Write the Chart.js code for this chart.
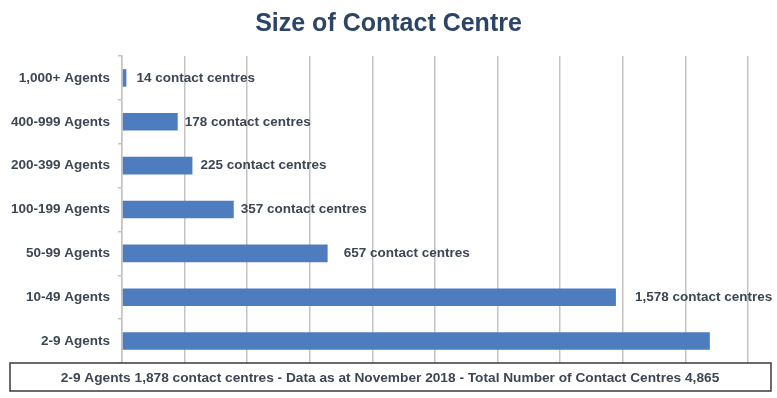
<!DOCTYPE html>
<html>
<head>
<meta charset="utf-8">
<title>Size of Contact Centre</title>
<script src="https://cdn.jsdelivr.net/npm/chart.js@4.4.1/dist/chart.umd.min.js"></script>
<style>
    html, body { margin: 0; padding: 0; background: #ffffff; }
    #wrap { position: relative; width: 777px; height: 398px; }
</style>
</head>
<body>
<div id="wrap"><canvas id="grafico"></canvas></div>
<script>
// datos
const categorias = ['1,000+ Agents', '400-999 Agents', '200-399 Agents', '100-199 Agents', '50-99 Agents', '10-49 Agents', '2-9 Agents'];
const centros = [14, 178, 225, 357, 657, 1578, 1878];
const xTicks = [0, 200, 400, 600, 800, 1000, 1200, 1400, 1600, 1800, 2000];
const titulo = 'Size of Contact Centre';
const pie = '2-9 Agents 1,878 contact centres - Data as at November 2018 - Total Number of Contact Centres 4,865';

// separacion de cada etiqueta respecto al final de la barra (null = sin etiqueta)
const separacion = [10, 7, 8, 7, 16, 19, null];

const colorTexto = '#3c4654';
const fuente = '"Liberation Sans", Arial, Helvetica, sans-serif';

// Titulo centrado en todo el ancho del lienzo
const tituloCentrado = {
    id: 'tituloCentrado',
    afterDraw(chart) {
        const ctx = chart.ctx;
        ctx.save();
        ctx.font = 'bold 25px ' + fuente;
        ctx.fillStyle = '#2b4468';
        ctx.textAlign = 'center';
        ctx.textBaseline = 'middle';
        ctx.fillText(titulo, chart.width / 2, 24);
        ctx.restore();
    }
};

// Etiquetas al final de cada barra
const etiquetasBarras = {
    id: 'etiquetasBarras',
    afterDatasetsDraw(chart) {
        const ctx = chart.ctx;
        const meta = chart.getDatasetMeta(0);
        ctx.save();
        ctx.font = 'bold 13.5px ' + fuente;
        ctx.fillStyle = colorTexto;
        ctx.textAlign = 'left';
        ctx.textBaseline = 'middle';
        meta.data.forEach((bar, i) => {
            if (separacion[i] === null) return;
            const texto = centros[i].toLocaleString('en-US') + ' contact centres';
            ctx.fillText(texto, bar.x + separacion[i], bar.y);
        });
        ctx.restore();
    }
};

// Recuadro con la nota al pie
const notaPie = {
    id: 'notaPie',
    afterDraw(chart) {
        const ctx = chart.ctx;
        const area = chart.chartArea;
        const top = area.bottom;
        const alto = 28;
        ctx.save();
        ctx.fillStyle = '#ffffff';
        ctx.fillRect(10, top, 761, alto);
        ctx.strokeStyle = '#3a3a3a';
        ctx.lineWidth = 1.5;
        ctx.strokeRect(10, top, 761, alto);
        ctx.font = 'bold 13.7px ' + fuente;
        ctx.fillStyle = colorTexto;
        ctx.textAlign = 'center';
        ctx.textBaseline = 'middle';
        ctx.fillText(pie, 390, top + alto / 2 + 1);
        ctx.restore();
    }
};

const graph = document.querySelector('#grafico');

const data = {
    labels: categorias,
    datasets: [{
        data: centros,
        backgroundColor: '#4d7dbf',
        borderWidth: 0,
        barPercentage: 0.4,
        categoryPercentage: 1
    }]
};

const config = {
    type: 'bar',
    data: data,
    plugins: [tituloCentrado, etiquetasBarras, notaPie],
    options: {
        indexAxis: 'y',
        responsive: true,
        maintainAspectRatio: false,
        animation: false,
        layout: {
            padding: { top: 56, left: 0, right: 29, bottom: 35 }
        },
        plugins: {
            legend: { display: false },
            tooltip: { enabled: false },
            title: { display: false }
        },
        scales: {
            x: {
                min: 0,
                max: 2000,
                afterBuildTicks: (scale) => {
                    scale.ticks = xTicks.map(v => ({ value: v }));
                },
                ticks: { display: false },
                border: { display: false },
                grid: {
                    color: '#c4c4c4',
                    lineWidth: 1.5,
                    drawTicks: false
                }
            },
            y: {
                // el area del grafico empieza en x = 122
                afterFit: (scale) => { scale.width = 122; },
                border: { display: true, color: '#c4c4c4', width: 1.5 },
                grid: {
                    drawOnChartArea: false,
                    drawTicks: true,
                    tickLength: 4,
                    offset: true,
                    color: '#c4c4c4',
                    lineWidth: 1.5
                },
                ticks: {
                    color: colorTexto,
                    padding: 8,
                    font: { family: fuente, size: 13.5, weight: 'bold' }
                }
            }
        }
    }
};

// Crear el grafico
const chartInstance = new Chart(graph, config);
</script>
</body>
</html>
